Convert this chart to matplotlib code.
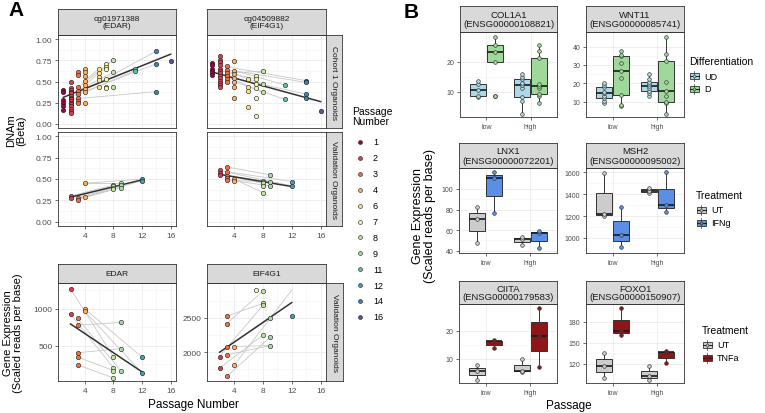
import numpy as np
import matplotlib
matplotlib.use("Agg")
import matplotlib.pyplot as plt
from matplotlib.patches import Rectangle

plt.rcParams['font.family'] = ['Liberation Sans', 'DejaVu Sans']

W, H = 765, 414

# ---------------- Panel A data ----------------
passages = [1, 2, 3, 4, 6, 7, 8, 9, 11, 12, 14, 16]
passage_colors = ['#9E0142', '#D53E4F', '#F46D43', '#FDAE61', '#FEE08B', '#F2F7A8',
                  '#C2E6A0', '#A3DAA4', '#66C2A5', '#3E9FB6', '#3288BD', '#5E4FA2']

# cg01971388 (EDAR), Cohort 1, beta by passage
tl_beta = {1: [0.40, 0.37, 0.28, 0.25, 0.21, 0.16],
           2: [0.50, 0.42, 0.40, 0.38, 0.36, 0.33, 0.31, 0.29, 0.27, 0.25, 0.23, 0.21, 0.18, 0.15, 0.13],
           3: [0.61, 0.58, 0.43, 0.39, 0.35, 0.31, 0.27, 0.24],
           4: [0.65, 0.61, 0.56, 0.51, 0.46, 0.41, 0.37, 0.24],
           6: [0.65, 0.60, 0.55, 0.52, 0.44],
           7: [0.71, 0.67, 0.65, 0.53, 0.44, 0.42],
           8: [0.75, 0.61, 0.44],
           11: [0.65, 0.63],
           14: [0.86, 0.71, 0.38],
           16: [0.74]}
tl_links = [(2, 0.31, 14, 0.86), (3, 0.35, 14, 0.71), (4, 0.41, 11, 0.65),
            (4, 0.37, 11, 0.63), (2, 0.29, 14, 0.38), (3, 0.43, 8, 0.75),
            (4, 0.46, 7, 0.67), (3, 0.39, 8, 0.61), (4, 0.51, 6, 0.65)]

# cg04509882 (EIF4G1), Cohort 1
tr_beta = {1: [0.72, 0.69, 0.65, 0.62, 0.60, 0.58],
           2: [0.80, 0.76, 0.73, 0.69, 0.65, 0.63, 0.60, 0.57, 0.54, 0.51, 0.48, 0.46, 0.43],
           3: [0.68, 0.64, 0.60, 0.56, 0.53, 0.50],
           4: [0.74, 0.63, 0.59, 0.54, 0.50, 0.43, 0.31],
           6: [0.53, 0.43, 0.39, 0.20],
           7: [0.56, 0.53, 0.47, 0.42, 0.31, 0.09],
           8: [0.62, 0.47, 0.37],
           11: [0.46, 0.29],
           14: [0.51, 0.49, 0.35, 0.31],
           16: [0.15]}
tr_links = [(2, 0.69, 14, 0.51), (3, 0.64, 14, 0.49), (4, 0.63, 11, 0.46),
            (4, 0.54, 14, 0.35), (3, 0.56, 8, 0.37), (4, 0.50, 11, 0.29),
            (3, 0.60, 8, 0.62), (4, 0.59, 8, 0.47), (2, 0.63, 7, 0.53)]

# Validation organoids, DNAm
ml_beta = {2: [0.30, 0.28], 3: [0.28, 0.26], 4: [0.45, 0.29],
           8: [0.43, 0.42, 0.40, 0.38], 9: [0.45, 0.43, 0.40], 12: [0.50, 0.48]}
ml_links = [(2, 0.30, 8, 0.43), (2, 0.28, 9, 0.43), (3, 0.28, 8, 0.40),
            (3, 0.26, 9, 0.40), (4, 0.45, 12, 0.50), (4, 0.29, 12, 0.48),
            (3, 0.27, 8, 0.38), (4, 0.45, 9, 0.45)]

mr_beta = {2: [0.60, 0.57, 0.55], 3: [0.64, 0.58, 0.54, 0.51, 0.49], 4: [0.50, 0.48],
           8: [0.48, 0.47, 0.45, 0.42, 0.34], 9: [0.55, 0.47, 0.42], 12: [0.47, 0.42]}
mr_links = [(3, 0.64, 9, 0.55), (2, 0.60, 12, 0.47), (3, 0.58, 12, 0.42),
            (3, 0.54, 8, 0.45), (4, 0.50, 8, 0.34), (3, 0.49, 9, 0.42),
            (2, 0.55, 8, 0.48), (4, 0.48, 9, 0.47)]

# Validation organoids, gene expression
bl_expr = {2: [1273, 932], 3: [873, 782, 409, 350, 245], 4: [1000, 968],
           8: [355, 205, 168, 68], 9: [818, 464, 168], 12: [350, 136]}
bl_links = [(2, 1273, 8, 355), (2, 932, 8, 205), (4, 1000, 12, 350),
            (4, 968, 12, 136), (3, 782, 9, 818), (3, 873, 9, 168),
            (3, 409, 9, 464), (3, 350, 8, 168), (3, 245, 8, 68)]

br_expr = {2: [1937, 1769], 3: [2524, 2413, 2072, 1962, 1649], 4: [2082, 1808],
           7: [2905], 8: [2889, 2707, 2683, 2250], 9: [2490, 2216, 2096], 12: [2519]}
br_links = [(3, 2413, 8, 2889), (3, 2524, 8, 2707), (2, 1937, 8, 2683),
            (2, 1769, 8, 2250), (3, 2072, 9, 2490), (3, 1962, 9, 2096),
            (3, 1649, 9, 2216), (4, 1808, 12, 2900), (4, 2082, 9, 2096)]

# ---------------- Panel B data ----------------
groups = ['low', 'high']
b_panels = [
    ("COL1A1\n(ENSG00000108821)",
     {'UD': [[8.2, 8.7, 10.6, 12.6, 13.6], [2.6, 7.0, 8.1, 11.1, 12.2, 12.8, 14.2, 14.9, 15.9]],
      'D': [[8.7, 19.8, 23.1, 25.6, 28.3], [6.1, 8.7, 9.2, 11.1, 11.8, 12.5, 21.1, 23.7, 25.6]]},
     (1.6, 29.9), [10, 20]),
    ("WNT11\n(ENSG00000085741)",
     {'UD': [[9.3, 10.5, 11.8, 13.0, 14.5, 15.5, 17.8, 19.0, 20.2], [13.3, 14.5, 16.0, 17.5, 18.4, 19.5, 20.9, 22.5, 25.1]],
      'D': [[7.5, 8.2, 13.8, 22.9, 26.5, 30.9, 34.7, 35.6, 37.5], [3.3, 9.0, 10.0, 13.3, 15.6, 20.5, 32.0, 36.0, 45.5]]},
     (1.6, 48), [10, 20, 30, 40]),
    ("LNX1\n(ENSG00000072201)",
     {'UT': [[47.4, 70.8, 82.8], [45.5, 51.3, 52.9]],
      'IFNg': [[76.3, 110.7, 116.2], [42.5, 56.8, 58.8]]},
     (37.8, 120.4), [40, 60, 80, 100]),
    ("MSH2\n(ENSG00000095002)",
     {'UT': [[1204, 1220, 1594], [1411, 1430, 1457]],
      'IFNg': [[915, 1028, 1280], [1241, 1302, 1600]]},
     (863, 1639), [1000, 1200, 1400, 1600]),
    ("CIITA\n(ENSG00000179583)",
     {'UT': [[2.4, 5.9, 7.9], [5.4, 5.9, 10.0]],
      'TNFa': [[13.8, 16.2, 16.8], [7.3, 18.0, 27.9]]},
     (1.5, 29.4), [10, 20]),
    ("FOXO1\n(ENSG00000150907)",
     {'UT': [[99, 117, 135], [97.2, 102.9, 116]],
      'TNFa': [[161.4, 166.5, 199], [121, 136, 138]]},
     (92.4, 205.3), [120, 150, 180]),
]
fills = {'UD': '#ADD8E6', 'D': '#9ED99A', 'UT': '#CCCCCC', 'IFNg': '#5B8FE6', 'TNFa': '#8E1616'}

# ---------------- helpers ----------------
fig = plt.figure(figsize=(W / 100, H / 100), dpi=100)
pcol = dict(zip(passages, passage_colors))


def px_axes(x0, y0, x1, y1, **kw):
    return fig.add_axes([x0 / W, 1 - y1 / H, (x1 - x0) / W, (y1 - y0) / H], **kw)


def strip(x0, y0, x1, y1, text, size=6, rot=0):
    s = px_axes(x0, y0, x1, y1)
    s.set_xticks([]); s.set_yticks([])
    s.set_facecolor('#D9D9D9')
    for sp in s.spines.values():
        sp.set_color('#333333'); sp.set_linewidth(0.6)
    s.text(0.5, 0.5, text, ha='center', va='center', fontsize=size, rotation=rot,
           color='#1A1A1A', transform=s.transAxes, linespacing=1.0)


def style(ax, tick_size=6):
    ax.set_facecolor('white')
    for sp in ax.spines.values():
        sp.set_color('#333333'); sp.set_linewidth(0.6)
    ax.grid(True, which='major', color='#EBEBEB', lw=0.6)
    ax.grid(True, which='minor', color='#F4F4F4', lw=0.4)
    ax.set_axisbelow(True)
    ax.tick_params(which='major', length=2.5, width=0.5, color='#333333',
                   labelsize=tick_size, labelcolor='#4D4D4D', pad=1.5)
    ax.tick_params(which='minor', length=0)


def a_panel(box, data, links, ylim, yticks, ylabels, xlabels, yfmt):
    ax = px_axes(*box)
    style(ax)
    for x0, y0, x1, y1 in links:
        ax.plot([x0, x1], [y0, y1], color='#C8C8C8', lw=0.6, zorder=1)
    xs = np.concatenate([[p] * len(v) for p, v in data.items()])
    ys = np.concatenate([v for v in data.values()])
    k, b = np.polyfit(xs, ys, 1)
    xx = np.array([xs.min(), xs.max()])
    ax.plot(xx, k * xx + b, color='#333333', lw=1.1, zorder=2)
    for p, v in data.items():
        ax.scatter([p] * len(v), v, s=10, color=pcol[p], edgecolors='#1A1A1A',
                   linewidths=0.4, zorder=3)
    ax.set_xlim(0.25, 16.75)
    ax.set_ylim(*ylim)
    ax.set_xticks([4, 8, 12, 16])
    ax.set_xticks([2, 6, 10, 14], minor=True)
    ax.set_yticks(yticks)
    ax.set_yticks(np.array(yticks[:-1]) + np.diff(yticks) / 2, minor=True)
    ax.set_xticklabels(['4', '8', '12', '16'] if xlabels else [])
    ax.set_yticklabels([yfmt % t for t in yticks] if ylabels else [])
    if not xlabels:
        ax.tick_params(axis='x', which='major', length=0)
    if not ylabels:
        ax.tick_params(axis='y', which='major', length=0)
    return ax


bt = [0, 0.25, 0.5, 0.75, 1.0]
a_panel((58, 36, 176, 129), tl_beta, tl_links, (-0.05, 1.05), bt, True, False, '%.2f')
a_panel((207, 36, 326, 129), tr_beta, tr_links, (-0.05, 1.05), bt, False, False, '%.2f')
a_panel((58, 133, 176, 227), ml_beta, ml_links, (-0.05, 1.05), bt, True, True, '%.2f')
a_panel((207, 133, 326, 227), mr_beta, mr_links, (-0.05, 1.05), bt, False, True, '%.2f')
axb = a_panel((58, 284, 176, 382), bl_expr, bl_links, (27, 1351), [500, 1000], True, True, '%d')
axb.set_yticks([250, 750, 1250], minor=True)
axb2 = a_panel((207, 284, 326, 382), br_expr, br_links, (1582, 3004), [2000, 2500], True, True, '%d')
axb2.set_yticks([1750, 2250, 2750], minor=True)

strip(58, 10, 176, 36, "cg01971388\n(EDAR)")
strip(207, 10, 326, 36, "cg04509882\n(EIF4G1)")
strip(326, 36, 342, 129, "Cohort 1 Organoids", rot=-90)
strip(326, 133, 342, 227, "Validation Organoids", rot=-90)
strip(58, 265, 176, 284, "EDAR")
strip(207, 265, 326, 284, "EIF4G1")
strip(326, 284, 343, 382, "Validation Organoids", rot=-90)

# ---------------- Panel B ----------------
b_boxes = [(460, 33, 557, 118), (586, 33, 684, 118),
           (459, 169, 557, 254), (586, 169, 684, 254),
           (459, 305, 557, 384), (586, 305, 684, 384)]
b_strips = [(460, 7, 557, 33), (586, 7, 684, 33),
            (459, 144, 557, 169), (586, 144, 684, 169),
            (459, 282, 557, 305), (586, 282, 684, 305)]

for (title, series, ylim, yticks), box, sb in zip(b_panels, b_boxes, b_strips):
    ax = px_axes(*box)
    style(ax, tick_size=5)
    for j, (name, vals) in enumerate(series.items()):
        pos = np.arange(1, len(groups) + 1) + (j - 0.5) * 0.375
        ax.boxplot(vals, positions=pos, widths=0.36, patch_artist=True,
                   boxprops=dict(facecolor=fills[name], edgecolor='#333333', lw=0.7),
                   medianprops=dict(color='#1A1A1A', lw=1.2),
                   whiskerprops=dict(color='#333333', lw=0.7),
                   capprops=dict(lw=0), showfliers=True,
                   flierprops=dict(marker='o', markersize=2.8, markerfacecolor=fills[name],
                                   markeredgecolor='#333333', markeredgewidth=0.4),
                   zorder=2)
        for p, v in zip(pos, vals):
            ax.scatter([p] * len(v), v, s=7, color=fills[name], edgecolors='#333333',
                       linewidths=0.45, zorder=3)
    ax.set_xlim(0.4, 2.6)
    ax.set_ylim(*ylim)
    ax.set_xticks([1, 2])
    ax.set_xticks([1.5], minor=True)
    ax.set_xticklabels(groups)
    ax.set_yticks(yticks)
    if len(yticks) > 1:
        ax.set_yticks(np.array(yticks[:-1]) + np.diff(yticks) / 2, minor=True)
    ax.grid(True, which='minor', axis='x', color='white')
    strip(*sb, title, size=6.8)

# ---------------- labels & legends (pixel overlay) ----------------
ov = px_axes(0, 0, W, H)
ov.set_xlim(0, W); ov.set_ylim(H, 0); ov.axis('off')
ov.patch.set_alpha(0)

ov.text(8, 11, "A", fontsize=15, fontweight='bold', va='center')
ov.text(404, 12, "B", fontsize=15, fontweight='bold', va='center')
ov.text(16, 131, "DNAm\n(Beta)", rotation=90, ha='center', va='center', fontsize=8, linespacing=1.0)
ov.text(13, 333, "Gene Expression\n(Scaled reads per base)", rotation=90, ha='center',
        va='center', fontsize=8, linespacing=1.0)
ov.text(193, 405, "Passage Number", ha='center', va='center', fontsize=8.5)
ov.text(424, 216, "Gene Expression\n(Scaled reads per base)", rotation=90, ha='center',
        va='center', fontsize=9, linespacing=1.0)
ov.text(569, 406, "Passage", ha='center', va='center', fontsize=8.5)

# passage legend
ov.text(352, 117, "Passage\nNumber", ha='left', va='center', fontsize=7.5, linespacing=1.0)
for i, p in enumerate(passages):
    yy = 143 + i * 15.9
    ov.scatter([360], [yy], s=8, color=pcol[p], edgecolors='#1A1A1A', linewidths=0.4)
    ov.text(373, yy, str(p), ha='left', va='center', fontsize=6.5)


def box_legend(x, y, title, names):
    ov.text(x, y, title, ha='left', va='center', fontsize=7.5)
    for i, n in enumerate(names):
        yy = y + 15 + i * 13
        ov.plot([x + 5, x + 5], [yy - 5, yy + 5], color='#333333', lw=0.5)
        ov.add_patch(Rectangle((x + 1, yy - 3), 9, 6, facecolor=fills[n], edgecolor='#333333', lw=0.6))
        ov.plot([x + 1, x + 10], [yy, yy], color='#1A1A1A', lw=0.7)
        ov.scatter([x + 5], [yy], s=4, color=fills[n], edgecolors='#333333', linewidths=0.4, zorder=3)
        ov.text(x + 15, yy, n, ha='left', va='center', fontsize=6.5)


box_legend(689, 62, "Differentiation", ['UD', 'D'])
box_legend(696, 196, "Treatment", ['UT', 'IFNg'])
box_legend(702, 331, "Treatment", ['UT', 'TNFa'])

fig.savefig("out.png", dpi=100)
